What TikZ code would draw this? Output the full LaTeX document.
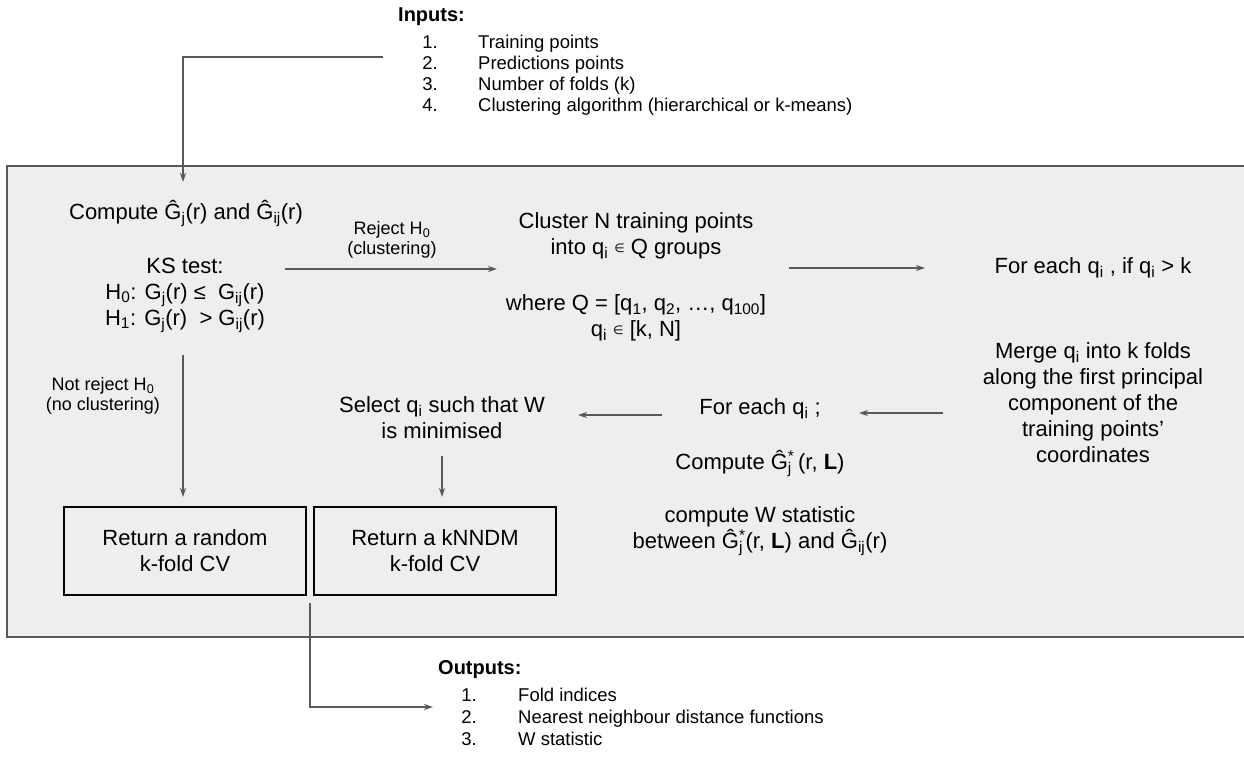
\documentclass[tikz,border=0pt]{standalone}
\usepackage{fontspec}
\setmainfont{Liberation Sans}
\newfontfamily\dvs{DejaVu Sans}
\usetikzlibrary{arrows.meta}
\definecolor{boxfill}{HTML}{EEEEEE}
\definecolor{linegray}{HTML}{595959}
\newcommand{\sbx}[1]{\textsubscript{#1}}
\newcommand{\sbsp}[2]{\textsubscript{#1}\kern-0.18em\textsuperscript{#2}}
\newcommand{\inn}{{\dvs\fontsize{12}{12}\selectfont\raisebox{0.35ex}{∈}}}
\tikzset{
  main/.style={font=\fontsize{22}{26}\selectfont, align=center, inner sep=0pt, text=black},
  lbl/.style={font=\fontsize{18}{20}\selectfont, align=center, inner sep=0pt},
  lstnum/.style={font=\fontsize{18.5}{21}\selectfont, inner sep=0pt, anchor=base east},
  lsttxt/.style={font=\fontsize{18.5}{21}\selectfont, inner sep=0pt, anchor=base west},
  ttl/.style={font=\bfseries\fontsize{20}{22}\selectfont, inner sep=0pt, anchor=west},
  resbox/.style={draw=black, line width=1.3pt, minimum width=242, minimum height=88, align=center, font=\fontsize{22}{26}\selectfont},
  conn/.style={draw=linegray, line width=1.5pt, -{Stealth[length=9pt,width=6pt]}},
  plain/.style={draw=linegray, line width=1.5pt}
}
\begin{document}
\begin{tikzpicture}[x=1pt,y=-1pt]
\useasboundingbox (0,0) rectangle (1244,763);
% outer panel
\fill[boxfill] (7,166) rectangle (1244,637);
\draw[plain] (1244,166) -- (7,166) -- (7,637) -- (1244,637);

% inputs
\node[ttl] (intitle) at (398,17) {Inputs:};
\node[lstnum] (in1n) at (438,48) {1.};
\node[lsttxt] (in1) at (478,48) {Training points};
\node[lstnum] (in2n) at (438,69) {2.};
\node[lsttxt] (in2) at (478,69) {Predictions points};
\node[lstnum] (in3n) at (438,90) {3.};
\node[lsttxt] (in3) at (478,90) {Number of folds (k)};
\node[lstnum] (in4n) at (438,111) {4.};
\node[lsttxt] (in4) at (478,111) {Clustering algorithm (hierarchical or k-means)};
\coordinate (inStart) at (383,57);
\coordinate (inEnd) at (183,182);
\draw[conn] (inStart) -| (inEnd);

% left column
\node[main] (comp) at (186,213) {Compute Ĝ\sbx{j}(r) and Ĝ\sbx{ij}(r)};
\node[main] (ks) at (185,295) {KS test:\\H\sbx{0}: G\sbx{j}(r) ≤\ \ G\sbx{ij}(r)\\H\sbx{1}: G\sbx{j}(r)\ \ > G\sbx{ij}(r)};
\node[lbl] (rej) at (392,240) {Reject H\sbx{0}\\(clustering)};
\coordinate (rejS) at (285,269);
\coordinate (rejE) at (497,269);
\draw[conn] (rejS) -- (rejE);

\node[lbl] (nrej) at (103,396) {Not reject H\sbx{0}\\(no clustering)};
\coordinate (nrS) at (183,355);
\coordinate (nrE) at (183,497);
\draw[conn] (nrS) -- (nrE);

% cluster block
\node[main] (cl1) at (636,236) {Cluster N training points\\into q\sbx{i} \inn{} Q groups};
\node[main] (cl2) at (636,318) {where Q = [q\sbx{1}, q\sbx{2}, …, q\sbx{100}]\\q\sbx{i} \inn{} [k, N]};
\coordinate (clS) at (789,268);
\coordinate (clE) at (925,268);
\draw[conn] (clS) -- (clE);

% right column
\node[main] (fe1) at (1093,268) {For each q\sbx{i} , if q\sbx{i} > k};
\node[main] (merge) at (1093,403) {Merge q\sbx{i} into k folds\\along the first principal\\component of the\\training points’\\coordinates};
\coordinate (mgS) at (943,413);
\coordinate (mgE) at (859,413);
\draw[conn] (mgS) -- (mgE);

% middle column
\node[main] (fe2) at (760,409) {For each q\sbx{i} ;};
\node[main] (cmp2) at (760,463) {Compute Ĝ\sbsp{j}{*}\,(r, \textbf{L})};
\node[main] (cw) at (760,531) {compute W statistic\\between Ĝ\sbsp{j}{*}(r, \textbf{L}) and Ĝ\sbx{ij}(r)};
\coordinate (feS) at (662,415);
\coordinate (feE) at (578,415);
\draw[conn] (feS) -- (feE);

\node[main] (sel) at (442,418) {Select q\sbx{i} such that W\\is minimised};
\coordinate (selS) at (442,456);
\coordinate (selE) at (442,497);
\draw[conn] (selS) -- (selE);

% result boxes
\node[resbox] (rand) at (185,551) {Return a random\\k-fold CV};
\node[resbox] (knn) at (435,551) {Return a kNNDM\\k-fold CV};

% outputs
\coordinate (outS) at (310,603);
\coordinate (outE) at (433,707);
\draw[conn] (outS) |- (outE);
\node[ttl] (outtitle) at (438,670) {Outputs:};
\node[lstnum] (out1n) at (477,701) {1.};
\node[lsttxt] (out1) at (518,701) {Fold indices};
\node[lstnum] (out2n) at (477,723) {2.};
\node[lsttxt] (out2) at (518,723) {Nearest neighbour distance functions};
\node[lstnum] (out3n) at (477,745) {3.};
\node[lsttxt] (out3) at (518,745) {W statistic};
\end{tikzpicture}
\end{document}
